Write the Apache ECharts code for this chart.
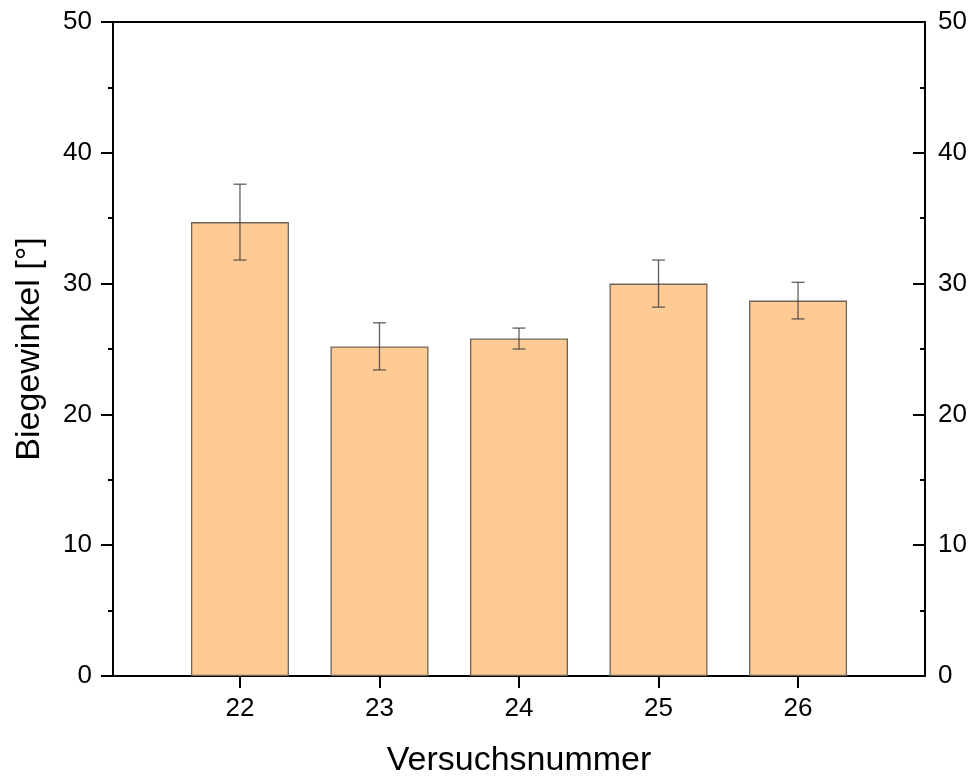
<!DOCTYPE html>
<html>
<head>
<meta charset="utf-8">
<script src="https://cdn.jsdelivr.net/npm/echarts@6/dist/echarts.min.js"></script>
<style>
  html, body { margin: 0; padding: 0; background: #fff; }
  #chart { width: 976px; height: 778px; }
</style>
</head>
<body>
<div id="chart"></div>
<script>
const categories = [22, 23, 24, 25, 26];
const means = [34.7, 25.2, 25.8, 30.0, 28.7];
const errors = [2.9, 1.8, 0.8, 1.8, 1.4];
const yTicks = [0, 10, 20, 30, 40, 50];

const FONT = "'Liberation Sans', Arial, sans-serif";
const chart = echarts.init(document.getElementById('chart'));

const barData = categories.map((c, i) => [c, means[i]]);
const errData = categories.map((c, i) => [c, means[i] - errors[i], means[i] + errors[i]]);

const axisLineStyle = { color: '#000', width: 2 };

chart.setOption({
  animation: false,
  backgroundColor: '#fff',
  grid: { left: 113, right: 51, top: 22, bottom: 102, containLabel: false, outerBoundsMode: 'none' },
  xAxis: [
    {
      type: 'value', position: 'bottom', min: 21.09, max: 26.91,
      axisLine: { show: true, onZero: false, lineStyle: axisLineStyle },
      axisTick: { show: true, customValues: categories, inside: false, length: 12, lineStyle: axisLineStyle },
      axisLabel: { show: true, customValues: categories, fontSize: 26, color: '#000', fontFamily: FONT, margin: 20 },
      splitLine: { show: false },
      name: 'Versuchsnummer', nameLocation: 'middle', nameGap: 68,
      nameTextStyle: { fontSize: 34, color: '#000', fontFamily: FONT }
    },
    {
      type: 'value', position: 'top', min: 21.09, max: 26.91,
      axisLine: { show: true, onZero: false, lineStyle: axisLineStyle },
      axisTick: { show: false }, axisLabel: { show: false }, splitLine: { show: false }
    }
  ],
  yAxis: [
    {
      type: 'value', position: 'left', min: 0, max: 50, interval: 10,
      axisLine: { show: true, onZero: false, lineStyle: axisLineStyle },
      axisTick: { show: true, inside: false, length: 12, lineStyle: axisLineStyle },
      minorTick: { show: true, splitNumber: 2, length: 5, lineStyle: axisLineStyle },
      axisLabel: { fontSize: 26, color: '#000', fontFamily: FONT, margin: 21,
        customValues: yTicks },
      splitLine: { show: false },
      name: 'Biegewinkel [°]', nameLocation: 'middle', nameGap: 66,
      nameTextStyle: { fontSize: 34, color: '#000', fontFamily: FONT }
    },
    {
      type: 'value', position: 'right', min: 0, max: 50, interval: 10,
      axisLine: { show: true, onZero: false, lineStyle: axisLineStyle },
      axisTick: { show: true, inside: true, length: 12, lineStyle: axisLineStyle },
      minorTick: { show: true, splitNumber: 2, length: 5, lineStyle: axisLineStyle },
      axisLabel: { fontSize: 26, color: '#000', fontFamily: FONT, margin: 13,
        customValues: yTicks },
      splitLine: { show: false }
    }
  ],
  series: [
    {
      type: 'bar', xAxisIndex: 0, yAxisIndex: 0, data: barData, barWidth: 98,
      itemStyle: { color: '#FECB94', borderColor: '#6e6558', borderWidth: 1.3 }
    },
    {
      type: 'custom', xAxisIndex: 0, yAxisIndex: 0, data: errData,
      encode: { x: 0, y: [1, 2] }, z: 10,
      renderItem: function (params, api) {
        const x = api.value(0);
        const lo = api.coord([x, api.value(1)]);
        const hi = api.coord([x, api.value(2)]);
        const hw = 6.5;
        const style = { stroke: '#444', lineWidth: 1.3, opacity: 0.85 };
        return {
          type: 'group',
          children: [
            { type: 'line', shape: { x1: lo[0], y1: lo[1], x2: hi[0], y2: hi[1] }, style: style },
            { type: 'line', shape: { x1: hi[0] - hw, y1: hi[1], x2: hi[0] + hw, y2: hi[1] }, style: style },
            { type: 'line', shape: { x1: lo[0] - hw, y1: lo[1], x2: lo[0] + hw, y2: lo[1] }, style: style }
          ]
        };
      }
    }
  ]
});
</script>
</body>
</html>
